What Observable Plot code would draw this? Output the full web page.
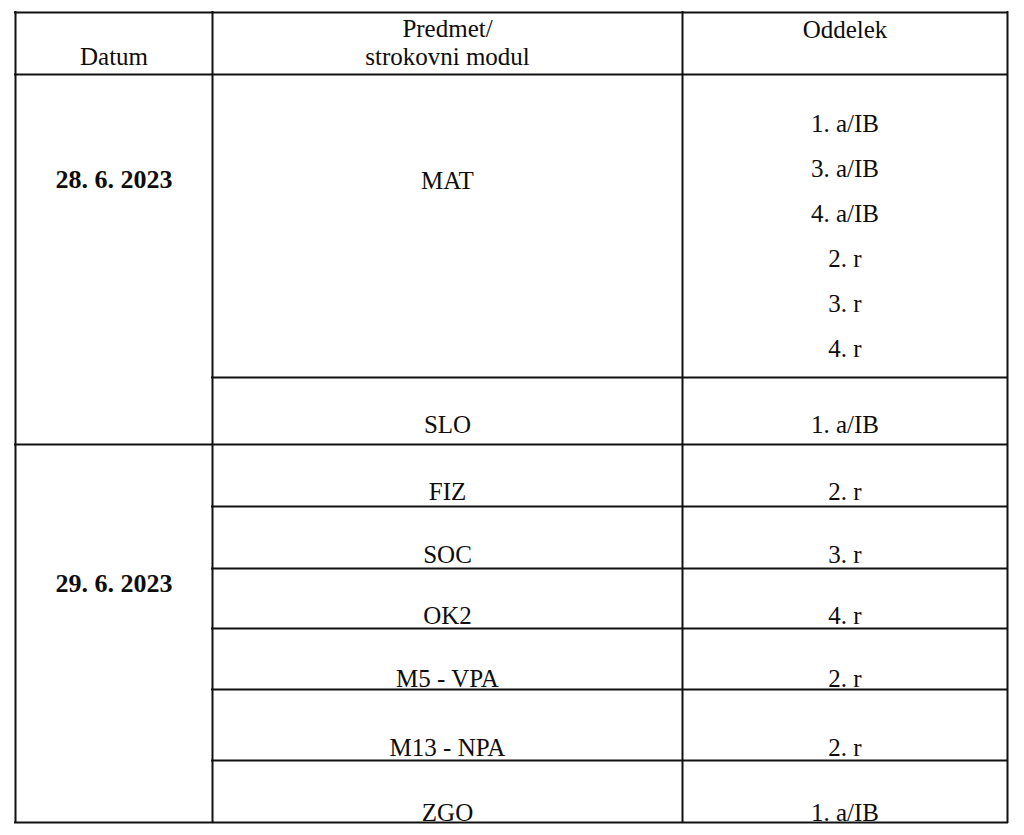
<!DOCTYPE html>
<html>
<head>
<meta charset="utf-8">
<script src="https://cdn.jsdelivr.net/npm/d3@7"></script>
<script src="https://cdn.jsdelivr.net/npm/@observablehq/plot@0.6"></script>
<style>
  html, body { margin: 0; padding: 0; background: #fff; }
  #chart svg { display: block; }
</style>
</head>
<body>
<div id="chart"></div>
<script>
// ---- data ----
const headers = ["Datum", "Predmet/\nstrokovni modul", "Oddelek"];
const dates = ["28. 6. 2023", "29. 6. 2023"];
const subjects = ["MAT", "SLO", "FIZ", "SOC", "OK2", "M5 - VPA", "M13 - NPA", "ZGO"];
const subjectDay = [0, 0, 1, 1, 1, 1, 1, 1];
const classes = [
  ["1. a/IB", "3. a/IB", "4. a/IB", "2. r", "3. r", "4. r"],
  ["1. a/IB"],
  ["2. r"],
  ["3. r"],
  ["4. r"],
  ["2. r"],
  ["2. r"],
  ["1. a/IB"]
];

// ---- layout (page pixels) ----
const W = 1024, H = 835;
const colEdges = [15, 212, 682, 1007];
const tableTop = 12, headerBottom = 74;
const rowBottoms = [377, 444, 506, 568, 628, 689, 760, 822];
const headerBaselines = [64, 64, 37];
const dateBaselines = [187, 591];
const subjectBaselines = [188, 432, 499, 562, 623, 686, 755, 820];
const stackStart = 131, stackStep = 45;

const colCenter = i => (colEdges[i] + colEdges[i + 1]) / 2;

const hLines = [
  {y: tableTop, x1: colEdges[0], x2: colEdges[3]},
  {y: headerBottom, x1: colEdges[0], x2: colEdges[3]},
  ...subjects.map((s, i) => {
    const dayEnd = i === subjects.length - 1 || subjectDay[i + 1] !== subjectDay[i];
    return {y: rowBottoms[i], x1: dayEnd ? colEdges[0] : colEdges[1], x2: colEdges[3]};
  })
];
const vLines = colEdges.map(x => ({x, y1: tableTop, y2: rowBottoms[rowBottoms.length - 1]}));

const regular = [];
const bold = [];
headers.forEach((h, i) => regular.push({x: colCenter(i), y: headerBaselines[i], text: h}));
dates.forEach((d, i) => bold.push({x: colCenter(0), y: dateBaselines[i], text: d}));
subjects.forEach((s, i) => {
  regular.push({x: colCenter(1), y: subjectBaselines[i], text: s});
  classes[i].forEach((c, j) => regular.push({
    x: colCenter(2),
    y: classes[i].length > 1 ? stackStart + j * stackStep : subjectBaselines[i],
    text: c
  }));
});

const font = "'Liberation Serif', 'Times New Roman', serif";
const textOpts = {
  x: "x", y: "y", text: "text",
  textAnchor: "middle", lineAnchor: "bottom", lineHeight: 1.12,
  fontSize: 25, fontFamily: font, fill: "#0d0d0d"
};

const chart = Plot.plot({
  width: W,
  height: H,
  margin: 0,
  x: {domain: [0, W], range: [0, W], axis: null},
  y: {domain: [0, H], range: [0, H], axis: null},
  style: {background: "#fff", fontFamily: font},
  marks: [
    Plot.ruleY(hLines, {y: "y", x1: "x1", x2: "x2", stroke: "#111", strokeWidth: 2, strokeLinecap: "square"}),
    Plot.ruleX(vLines, {x: "x", y1: "y1", y2: "y2", stroke: "#111", strokeWidth: 2, strokeLinecap: "square"}),
    Plot.text(regular, textOpts),
    Plot.text(bold, {...textOpts, fontSize: 26, fontWeight: "bold"})
  ]
});
document.getElementById("chart").appendChild(chart);
</script>
</body>
</html>
